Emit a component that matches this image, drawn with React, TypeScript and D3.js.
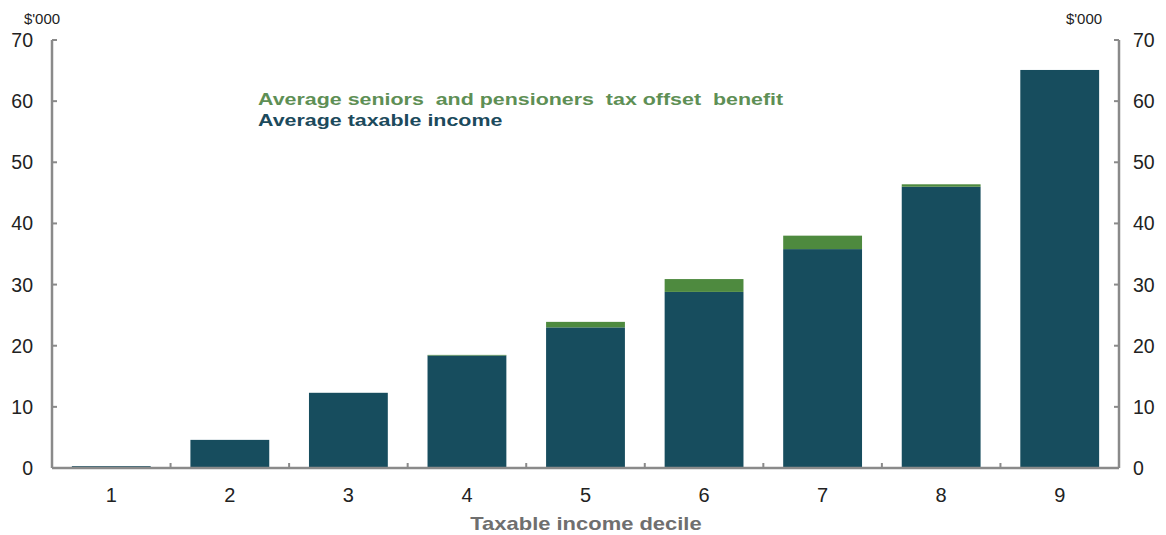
import React from "react";
import * as d3 from "d3";

const categories = ["1", "2", "3", "4", "5", "6", "7", "8", "9"];
const taxableIncome = [0.3, 4.6, 12.3, 18.4, 23.0, 28.8, 35.8, 46.0, 65.1];
const offsetBenefit = [0.0, 0.0, 0.0, 0.1, 0.9, 2.1, 2.2, 0.4, 0.0];
const yTicks = [0, 10, 20, 30, 40, 50, 60, 70];
const legendLabels = ["Average seniors  and pensioners  tax offset  benefit", "Average taxable income"];
const xTitle = "Taxable income decile";
const unitLabel = "$'000";

const W = 1166;
const H = 535;
const left = 52;
const right = 1119;
const top = 40;
const bottom = 468;

const DARK = "#174d5e";
const GREEN = "#4e8a3f";
const AXIS = "#8a8a8a";

export default function App() {
  const x = d3.scaleBand<string>().domain(categories).range([left, right]).paddingInner(0.335).paddingOuter(0.1675);
  const y = d3.scaleLinear().domain([0, 70]).range([bottom, top]);
  const step = x.step();
  const font = "Arial, 'Liberation Sans', sans-serif";

  return (
    <div style={{ position: "absolute", left: 0, top: 0 }}>
      <svg width={W} height={H} style={{ display: "block", background: "#fff" }}>
        {categories.map((c, i) => {
          const x0 = x(c)!;
          const inc = taxableIncome[i];
          const off = offsetBenefit[i];
          return (
            <g key={c}>
              <rect x={x0} width={x.bandwidth()} y={y(inc)} height={y(0) - y(inc)} fill={DARK} />
              {off > 0 && (
                <rect x={x0} width={x.bandwidth()} y={y(inc + off)} height={y(inc) - y(inc + off)} fill={GREEN} />
              )}
            </g>
          );
        })}
        <line x1={left} x2={left} y1={top} y2={bottom} stroke={AXIS} strokeWidth={2.5} />
        <line x1={right} x2={right} y1={top} y2={bottom} stroke={AXIS} strokeWidth={2.5} />
        {yTicks.map((t) => (
          <g key={t}>
            <line x1={left} x2={left + 5} y1={y(t)} y2={y(t)} stroke={AXIS} strokeWidth={2} />
            <line x1={right - 5} x2={right} y1={y(t)} y2={y(t)} stroke={AXIS} strokeWidth={2} />
            <text x={33} y={y(t)} dy="0.36em" textAnchor="end" fontFamily={font} fontSize={19.5} fill="#222">
              {t}
            </text>
            <text x={1133} y={y(t)} dy="0.36em" textAnchor="start" fontFamily={font} fontSize={19.5} fill="#222">
              {t}
            </text>
          </g>
        ))}
        <line x1={left} x2={right} y1={bottom} y2={bottom} stroke={AXIS} strokeWidth={2.5} />
        {d3.range(1, categories.length).map((k) => (
          <line key={k} x1={left + step * k} x2={left + step * k} y1={bottom} y2={bottom - 5} stroke={AXIS} strokeWidth={2} />
        ))}
        {categories.map((c) => (
          <text key={c} x={x(c)! + x.bandwidth() / 2} y={502} textAnchor="middle" fontFamily={font} fontSize={20} fill="#222">
            {c}
          </text>
        ))}
        <g transform="translate(586,530) scale(1.22,1)">
          <text x={0} y={0} textAnchor="middle" fontFamily={font} fontSize={18} fontWeight="bold" fill="#6f6f6f">
            {xTitle}
          </text>
        </g>
        <text x={42} y={24} textAnchor="middle" fontFamily={font} fontSize={15} fill="#222">
          {unitLabel}
        </text>
        <text x={1084} y={24} textAnchor="middle" fontFamily={font} fontSize={15} fill="#222">
          {unitLabel}
        </text>
        <g transform="translate(258,105) scale(1.26,1)">
          <text x={0} y={0} fontFamily={font} fontSize={17} fontWeight="bold" fill="#5e8f55" style={{ whiteSpace: "pre" }}>
            {legendLabels[0]}
          </text>
        </g>
        <g transform="translate(258,126) scale(1.26,1)">
          <text x={0} y={0} fontFamily={font} fontSize={17} fontWeight="bold" fill="#1c4a5c">
            {legendLabels[1]}
          </text>
        </g>
      </svg>
    </div>
  );
}
